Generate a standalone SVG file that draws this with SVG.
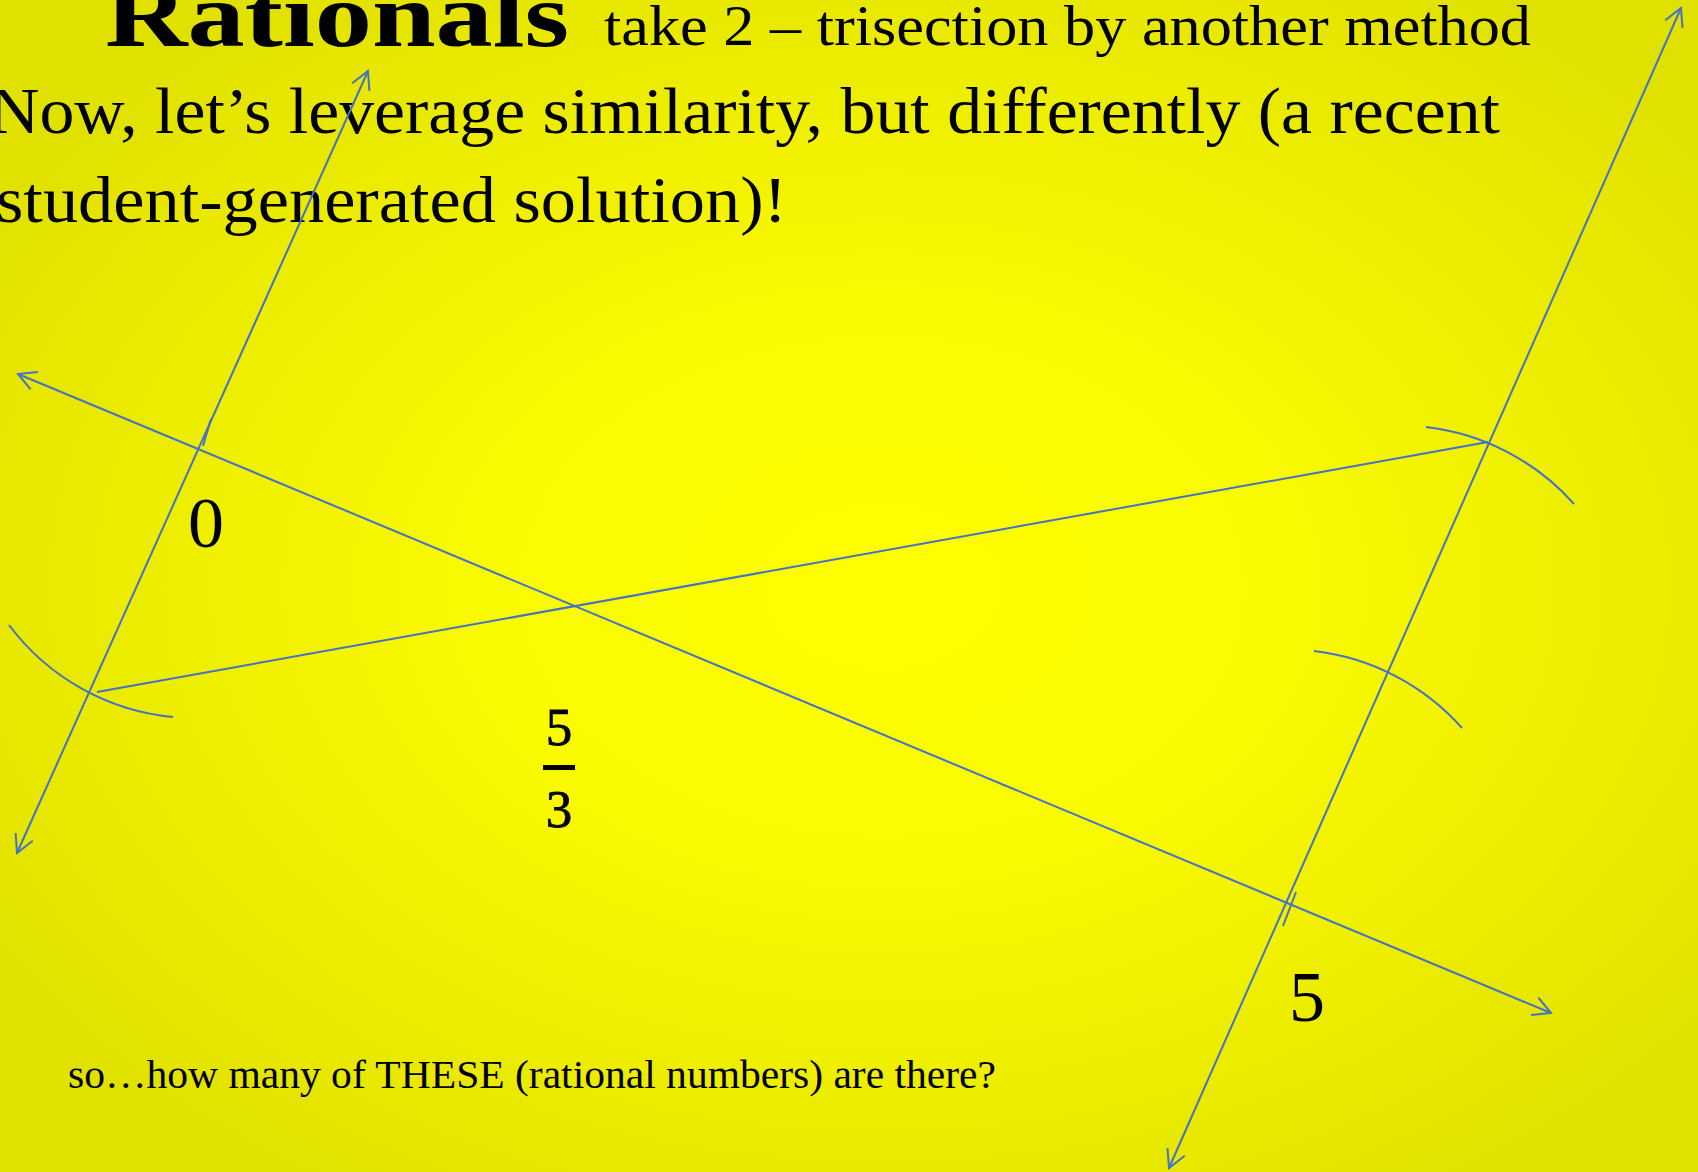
<svg xmlns="http://www.w3.org/2000/svg" width="1698" height="1172" viewBox="0 0 1698 1172">
  <defs>
    <radialGradient id="bg" cx="52%" cy="50%" r="62%">
      <stop offset="0" stop-color="#ffff00"/>
      <stop offset="0.35" stop-color="#fbfb00"/>
      <stop offset="1" stop-color="#e1e100"/>
    </radialGradient>
    <marker id="arr" markerUnits="userSpaceOnUse" markerWidth="40" markerHeight="40" viewBox="-25 -20 30 40" refX="0" refY="0" orient="auto-start-reverse">
      <path d="M -17.6 -9.4 L 0 0 L -17.6 9.4" fill="none" stroke="#4472c4" stroke-width="2"/>
    </marker>
    <style>
      .ln { fill: none; stroke: #4472c4; stroke-width: 2; }
      .arrow { marker-start: url(#arr); marker-end: url(#arr); }
      .serif { font-family: "Liberation Serif", "DejaVu Serif", serif; fill: #000; }
      .lbl { font-family: "Liberation Serif", "DejaVu Serif", serif; font-size: 72px; fill: #000; text-anchor: middle; }
      .frac { font-family: "Liberation Serif", "DejaVu Serif", serif; font-size: 53px; fill: #000; text-anchor: middle; stroke: #000; stroke-width: 0.8; }
    </style>
  </defs>

  <rect x="0" y="0" width="1698" height="1172" fill="url(#bg)"/>

  <g id="title">
    <text class="serif" x="105" y="46" font-size="90" font-weight="bold" textLength="464" lengthAdjust="spacingAndGlyphs">Rationals</text>
    <text class="serif" x="604" y="45" font-size="57" textLength="927" lengthAdjust="spacingAndGlyphs">take 2 – trisection by another method</text>
  </g>

  <g id="intro">
    <text class="serif" x="-11" y="133" font-size="66" textLength="1511" lengthAdjust="spacingAndGlyphs">Now, let’s leverage similarity, but differently (a recent</text>
    <text class="serif" x="-4" y="222" font-size="66" textLength="791" lengthAdjust="spacingAndGlyphs">student-generated solution)!</text>
  </g>

  <g id="connectors">
    <line id="lineA" class="ln arrow" x1="17" y1="853" x2="368" y2="71"/>
    <line id="lineB" class="ln arrow" x1="18" y1="374" x2="1551" y2="1013"/>
    <line id="lineC" class="ln arrow" x1="1169" y1="1168" x2="1681" y2="8"/>
    <line id="lineD" class="ln" x1="97" y1="692" x2="1488" y2="442"/>
    <path id="arcLeft" class="ln" d="M 9 625 A 232 232 0 0 0 173 717"/>
    <path id="arcRight1" class="ln" d="M 1426 427 A 234 234 0 0 1 1574 504"/>
    <path id="arcRight2" class="ln" d="M 1314 651 A 234 234 0 0 1 1462 728"/>
    <line id="tick0" class="ln" x1="211" y1="419" x2="203" y2="446" stroke-width="2.5"/>
    <line id="tick5" class="ln" x1="1296" y1="892" x2="1283" y2="926" stroke-width="2.5"/>
  </g>

  <g id="label-0">
    <text class="lbl" x="206" y="547">0</text>
  </g>
  <g id="label-5">
    <text class="lbl" x="1307" y="1021">5</text>
  </g>
  <g id="label-5-3">
    <text class="frac" x="559" y="745">5</text>
    <rect x="543" y="765" width="32" height="5" fill="#000"/>
    <text class="frac" x="559" y="827">3</text>
  </g>

  <g id="question">
    <text class="serif" x="68" y="1088" font-size="40" textLength="928" lengthAdjust="spacingAndGlyphs">so…how many of THESE (rational numbers) are there?</text>
  </g>
</svg>
